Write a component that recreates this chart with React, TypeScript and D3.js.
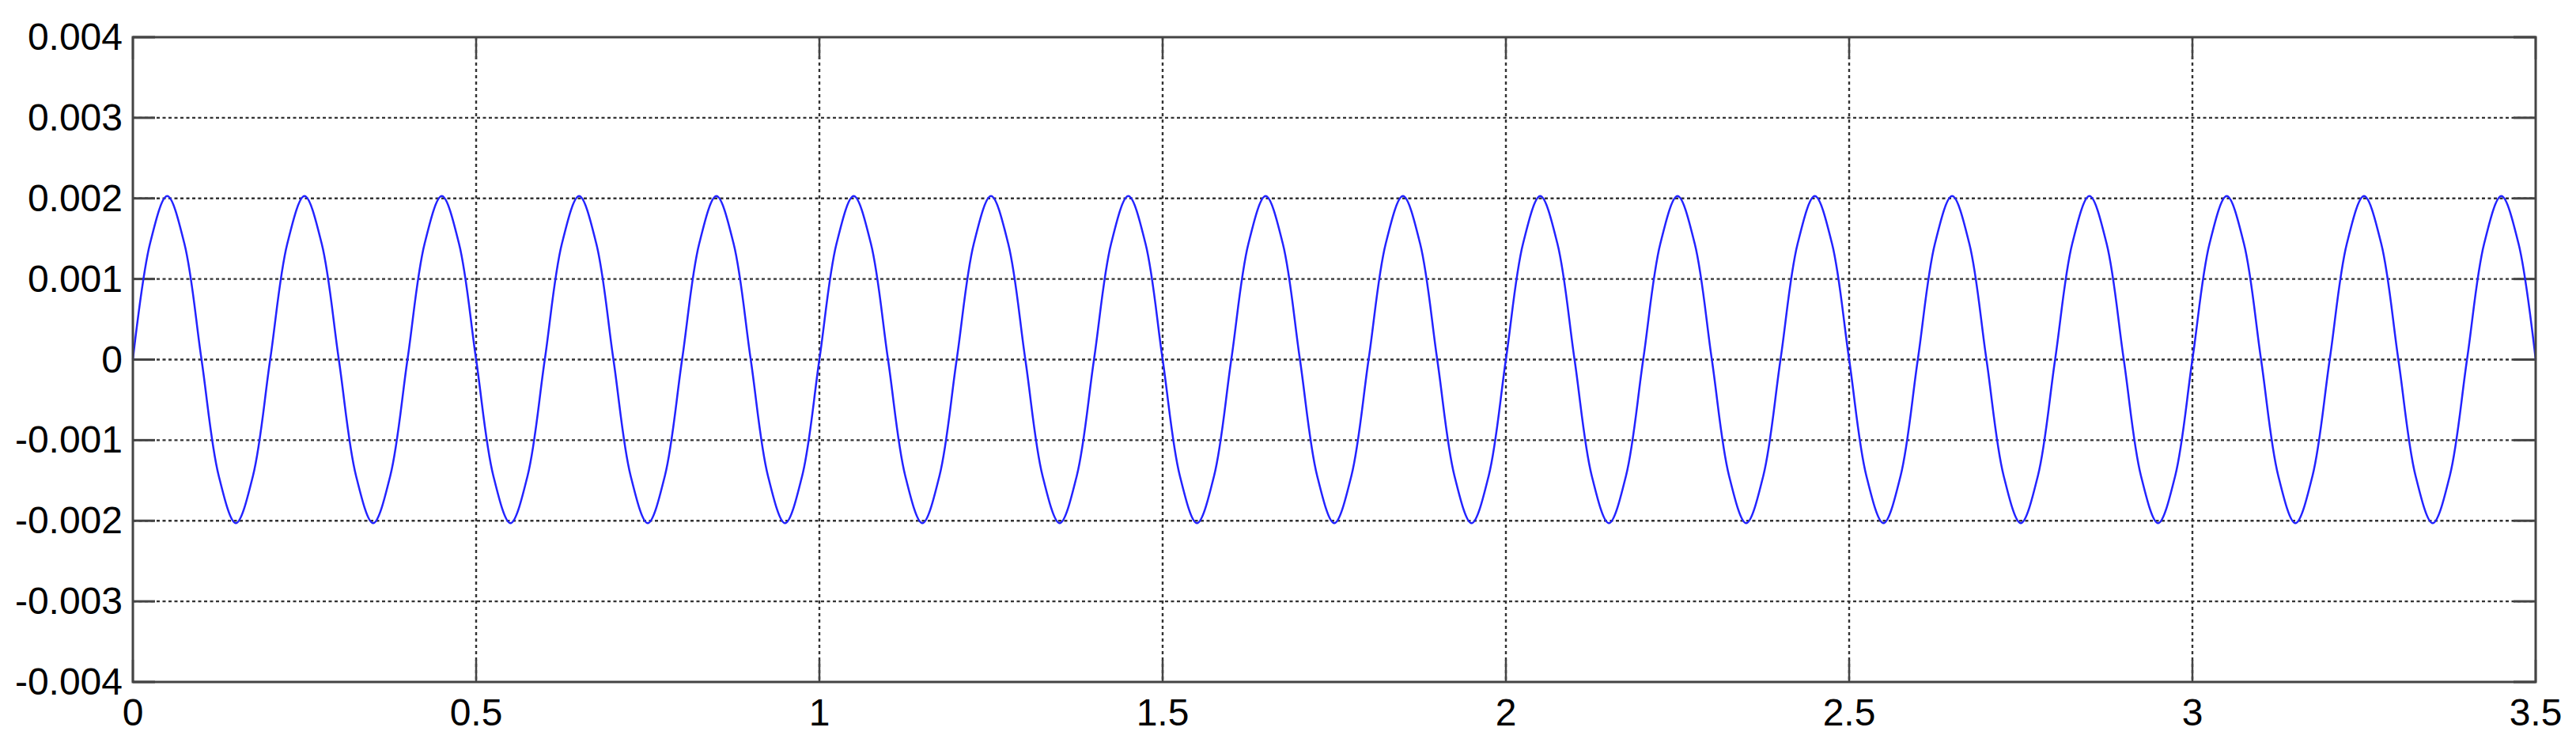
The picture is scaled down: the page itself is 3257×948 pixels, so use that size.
import React, { useEffect, useRef } from "react";
import * as d3 from "d3";

let width = 3257,
	height = 948;
let margin = { top: 47, right: 51, bottom: 86, left: 168 };
let lineColor = "#2323ff",
	axisColor = "#444";

// samples, one every 0.025 s (8 per cycle)
const sampleStep = 0.025;
const signal = [
	0, 0.00144, 0.00203, 0.00144, 0, -0.00144, -0.00203, -0.00144,
	0, 0.00144, 0.00203, 0.00144, 0, -0.00144, -0.00203, -0.00144,
	0, 0.00144, 0.00203, 0.00144, 0, -0.00144, -0.00203, -0.00144,
	0, 0.00144, 0.00203, 0.00144, 0, -0.00144, -0.00203, -0.00144,
	0, 0.00144, 0.00203, 0.00144, 0, -0.00144, -0.00203, -0.00144,
	0, 0.00144, 0.00203, 0.00144, 0, -0.00144, -0.00203, -0.00144,
	0, 0.00144, 0.00203, 0.00144, 0, -0.00144, -0.00203, -0.00144,
	0, 0.00144, 0.00203, 0.00144, 0, -0.00144, -0.00203, -0.00144,
	0, 0.00144, 0.00203, 0.00144, 0, -0.00144, -0.00203, -0.00144,
	0, 0.00144, 0.00203, 0.00144, 0, -0.00144, -0.00203, -0.00144,
	0, 0.00144, 0.00203, 0.00144, 0, -0.00144, -0.00203, -0.00144,
	0, 0.00144, 0.00203, 0.00144, 0, -0.00144, -0.00203, -0.00144,
	0, 0.00144, 0.00203, 0.00144, 0, -0.00144, -0.00203, -0.00144,
	0, 0.00144, 0.00203, 0.00144, 0, -0.00144, -0.00203, -0.00144,
	0, 0.00144, 0.00203, 0.00144, 0, -0.00144, -0.00203, -0.00144,
	0, 0.00144, 0.00203, 0.00144, 0, -0.00144, -0.00203, -0.00144,
	0, 0.00144, 0.00203, 0.00144, 0, -0.00144, -0.00203, -0.00144,
	0, 0.00144, 0.00203, 0.00144, 0
];

const xTicks = [0, 0.5, 1, 1.5, 2, 2.5, 3, 3.5];
const xTickLabels = ["0", "0.5", "1", "1.5", "2", "2.5", "3", "3.5"];
const yTicks = [0.004, 0.003, 0.002, 0.001, 0, -0.001, -0.002, -0.003, -0.004];
const yTickLabels = ["0.004", "0.003", "0.002", "0.001", "0", "-0.001", "-0.002", "-0.003", "-0.004"];

let drawChart = (node: SVGSVGElement) => {
	const svg = d3.select(node);
	svg.selectAll("*").remove();

	const w = width - margin.left - margin.right;
	const h = height - margin.top - margin.bottom;

	const xScale = d3.scaleLinear().domain([0, 3.5]).range([0, w]);
	const yScale = d3.scaleLinear().domain([-0.004, 0.004]).range([h, 0]);

	const g = svg.append("g")
		.attr("transform", "translate(" + margin.left + "," + margin.top + ")");

	g.append("rect")
		.attr("width", w)
		.attr("height", h)
		.attr("fill", "#fff");

	// grid
	g.selectAll(".hgrid")
		.data(yTicks.slice(1, -1))
		.enter()
		.append("line")
		.attr("class", "hgrid")
		.attr("x1", 0)
		.attr("x2", w)
		.attr("y1", d => yScale(d))
		.attr("y2", d => yScale(d))
		.attr("stroke", "#333")
		.attr("stroke-width", 2.4)
		.attr("stroke-dasharray", "4,3.5");

	g.selectAll(".vgrid")
		.data(xTicks.slice(1, -1))
		.enter()
		.append("line")
		.attr("class", "vgrid")
		.attr("x1", d => xScale(d))
		.attr("x2", d => xScale(d))
		.attr("y1", 0)
		.attr("y2", h)
		.attr("stroke", "#333")
		.attr("stroke-width", 2.4)
		.attr("stroke-dasharray", "4,4");

	// ticks inside the box (both sides)
	const tl = 28;
	yTicks.forEach(v => {
		const y = yScale(v);
		g.append("line").attr("x1", 0).attr("x2", tl).attr("y1", y).attr("y2", y)
			.attr("stroke", axisColor).attr("stroke-width", 3);
		g.append("line").attr("x1", w - tl).attr("x2", w).attr("y1", y).attr("y2", y)
			.attr("stroke", axisColor).attr("stroke-width", 3);
	});
	xTicks.forEach(v => {
		const x = xScale(v);
		g.append("line").attr("x1", x).attr("x2", x).attr("y1", h).attr("y2", h - tl)
			.attr("stroke", axisColor).attr("stroke-width", 2.5);
		g.append("line").attr("x1", x).attr("x2", x).attr("y1", 0).attr("y2", tl)
			.attr("stroke", axisColor).attr("stroke-width", 2.5);
	});

	// series
	const line = d3.line<number>()
		.x((d, i) => xScale(i * sampleStep))
		.y(d => yScale(d))
		.curve(d3.curveCatmullRom.alpha(0.5));

	g.append("path")
		.datum(signal)
		.attr("d", line)
		.attr("fill", "none")
		.attr("stroke", lineColor)
		.attr("stroke-width", 2.5);

	// box
	g.append("rect")
		.attr("width", w)
		.attr("height", h)
		.attr("fill", "none")
		.attr("stroke", axisColor)
		.attr("stroke-width", 3);

	// labels
	g.selectAll(".ylab")
		.data(yTicks)
		.enter()
		.append("text")
		.attr("class", "ylab")
		.attr("x", -13)
		.attr("y", d => yScale(d) + 16)
		.attr("text-anchor", "end")
		.attr("font-family", "Liberation Sans, Arial, sans-serif")
		.attr("font-size", 48)
		.attr("fill", "#000")
		.text((d, i) => yTickLabels[i]);

	g.selectAll(".xlab")
		.data(xTicks)
		.enter()
		.append("text")
		.attr("class", "xlab")
		.attr("x", d => xScale(d))
		.attr("y", h + 55)
		.attr("text-anchor", "middle")
		.attr("font-family", "Liberation Sans, Arial, sans-serif")
		.attr("font-size", 48)
		.attr("fill", "#000")
		.text((d, i) => xTickLabels[i]);
};

export default function App() {
	const ref = useRef<SVGSVGElement>(null);
	useEffect(() => {
		if (ref.current) drawChart(ref.current);
	}, []);
	return (
		<svg
			ref={ref}
			width={width}
			height={height}
			style={{ position: "absolute", left: 0, top: 0, background: "#fff" }}
		/>
	);
}
